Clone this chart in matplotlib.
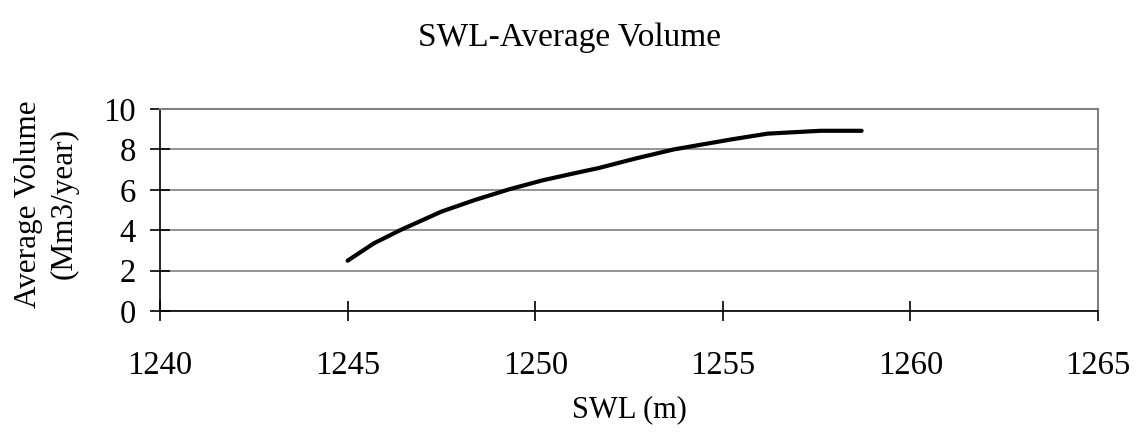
import matplotlib.pyplot as plt

# SWL (m) vs average volume (Mm3/year)
swl = [1245.0, 1245.7, 1246.4, 1247.5, 1248.4, 1249.3, 1250.2, 1251.0,
       1251.7, 1252.7, 1253.7, 1255.25, 1256.2, 1257.6, 1258.7]
avg_volume = [2.49, 3.35, 4.0, 4.92, 5.5, 6.02, 6.47, 6.8,
              7.08, 7.56, 8.0, 8.5, 8.78, 8.92, 8.92]

x_ticks = [1240, 1245, 1250, 1255, 1260, 1265]
y_ticks = [0, 2, 4, 6, 8, 10]

plt.rcParams['font.family'] = ['Liberation Serif', 'DejaVu Serif']

fig = plt.figure(figsize=(11.39, 4.43), dpi=100)
ax = fig.add_axes([0.1405, 0.298, 0.8235, 0.456])

ax.plot(swl, avg_volume, color='black', lw=3, solid_capstyle='round',
        solid_joinstyle='round')

ax.set_xlim(1240, 1265)
ax.set_ylim(0, 10)
ax.set_xticks(x_ticks)
ax.set_yticks(y_ticks)
ax.yaxis.grid(True, color='#808080', lw=1.2)
ax.set_axisbelow(True)

for s in ['top', 'right']:
    ax.spines[s].set_color('#808080')
    ax.spines[s].set_linewidth(1.5)
for s in ['left', 'bottom']:
    ax.spines[s].set_color('black')
    ax.spines[s].set_linewidth(1.2)

ax.tick_params(axis='both', direction='inout', length=15, width=1.2,
               labelsize=23.5)
ax.tick_params(axis='x', pad=21)
ax.tick_params(axis='y', pad=10)

ax.set_xlabel('SWL (m)', fontsize=22, va='center')
ax.xaxis.set_label_coords(0.5, -0.49)
ax.set_ylabel('Average Volume\n(Mm3/year)', fontsize=22.5, va='center',
              ha='center', linespacing=1.3)
ax.yaxis.set_label_coords(-0.121, 0.53)

fig.text(0.5, 1 - 38 / 443, 'SWL-Average Volume', fontsize=24,
         ha='center', va='center')

fig.savefig('out.png', dpi=100)
